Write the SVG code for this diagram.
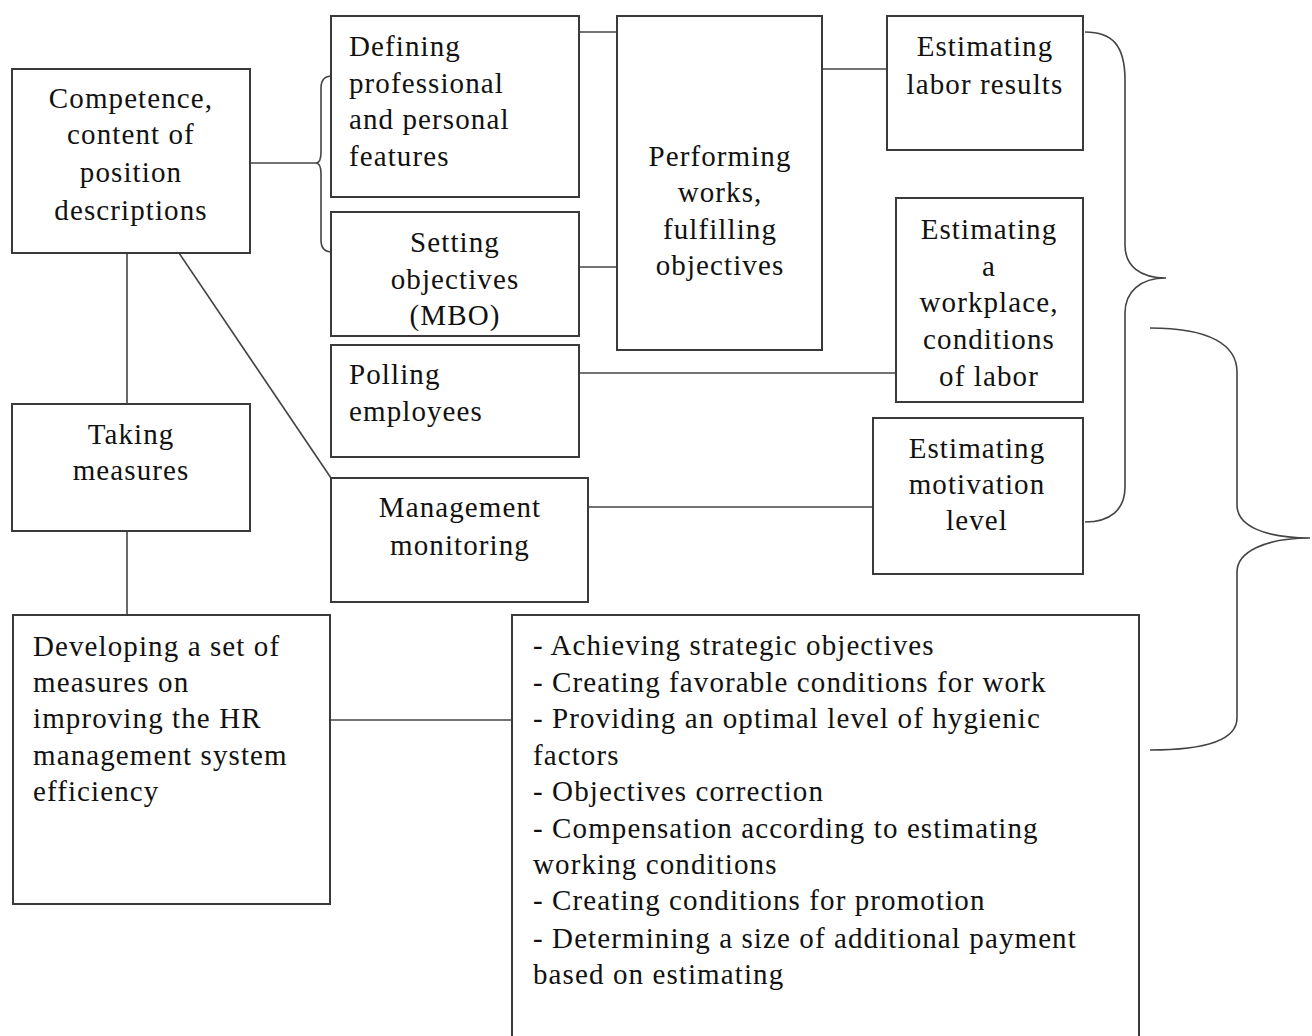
<svg xmlns="http://www.w3.org/2000/svg" width="1312" height="1036" viewBox="0 0 1312 1036">
<style>
.box{fill:#fff;stroke:#3a3a3a;stroke-width:2}
.ln{fill:none;stroke:#444;stroke-width:1.6}
text{font-family:"Liberation Serif","Times New Roman",serif;font-size:29px;letter-spacing:1.1px;fill:#111}
.c{text-anchor:middle}
</style>
<rect width="1312" height="1036" fill="#fff"/>
<g id="connectors">
<line class="ln" x1="250" y1="163" x2="316" y2="163"/>
<path class="ln" d="M332,76 C325,76 321,80 321,88 L321,152 C321,159 319,163 316,163 C319,163 321,167 321,174 L321,240 C321,248 325,252 332,252"/>
<line class="ln" x1="579" y1="32" x2="617" y2="32"/>
<line class="ln" x1="579" y1="267" x2="617" y2="267"/>
<line class="ln" x1="822" y1="69" x2="887" y2="69"/>
<line class="ln" x1="579" y1="373" x2="896" y2="373"/>
<line class="ln" x1="588" y1="507" x2="873" y2="507"/>
<line class="ln" x1="127" y1="253" x2="127" y2="404"/>
<line class="ln" x1="127" y1="531" x2="127" y2="614"/>
<line class="ln" x1="179" y1="253" x2="331" y2="478"/>
<line class="ln" x1="330" y1="720" x2="512" y2="720"/>
<path class="ln" d="M1085,32 C1112,32 1125,45 1125,80 L1125,245 C1125,266 1140,278 1166,278 C1140,278 1125,292 1125,313 L1125,487 C1125,510 1110,522 1085,522"/>
<path class="ln" d="M1150,328 C1210,328 1237,345 1237,372 L1237,505 C1237,526 1265,538 1310,538 C1265,538 1237,552 1237,572 L1237,718 C1237,738 1210,750 1150,750"/>
</g>
<g id="n-competence">
<rect class="box" x="12" y="69" width="238" height="184"/>
<text class="c" x="131" y="108">Competence,</text>
<text class="c" x="131" y="144">content of</text>
<text class="c" x="131" y="182">position</text>
<text class="c" x="131" y="220">descriptions</text>
</g>
<g id="n-defining">
<rect class="box" x="331" y="16" width="248" height="181"/>
<text x="349" y="56">Defining</text>
<text x="349" y="93">professional</text>
<text x="349" y="129">and personal</text>
<text x="349" y="166">features</text>
</g>
<g id="n-setting">
<rect class="box" x="331" y="212" width="248" height="124"/>
<text class="c" x="455" y="252">Setting</text>
<text class="c" x="455" y="289">objectives</text>
<text class="c" x="455" y="325">(MBO)</text>
</g>
<g id="n-performing">
<rect class="box" x="617" y="16" width="205" height="334"/>
<text class="c" x="720" y="166">Performing</text>
<text class="c" x="720" y="202">works,</text>
<text class="c" x="720" y="239">fulfilling</text>
<text class="c" x="720" y="275">objectives</text>
</g>
<g id="n-labor-results">
<rect class="box" x="887" y="16" width="196" height="134"/>
<text class="c" x="985" y="56">Estimating</text>
<text class="c" x="985" y="94">labor results</text>
</g>
<g id="n-workplace">
<rect class="box" x="896" y="198" width="187" height="204"/>
<text class="c" x="989" y="239">Estimating</text>
<text class="c" x="989" y="276">a</text>
<text class="c" x="989" y="312">workplace,</text>
<text class="c" x="989" y="349">conditions</text>
<text class="c" x="989" y="386">of labor</text>
</g>
<g id="n-polling">
<rect class="box" x="331" y="345" width="248" height="112"/>
<text x="349" y="384">Polling</text>
<text x="349" y="421">employees</text>
</g>
<g id="n-motivation">
<rect class="box" x="873" y="418" width="210" height="156"/>
<text class="c" x="977" y="458">Estimating</text>
<text class="c" x="977" y="494">motivation</text>
<text class="c" x="977" y="530">level</text>
</g>
<g id="n-monitoring">
<rect class="box" x="331" y="478" width="257" height="124"/>
<text class="c" x="460" y="517">Management</text>
<text class="c" x="460" y="555">monitoring</text>
</g>
<g id="n-taking">
<rect class="box" x="12" y="404" width="238" height="127"/>
<text class="c" x="131" y="444">Taking</text>
<text class="c" x="131" y="480">measures</text>
</g>
<g id="n-developing">
<rect class="box" x="13" y="615" width="317" height="289"/>
<text x="33" y="656">Developing a set of</text>
<text x="33" y="692">measures on</text>
<text x="33" y="728">improving the HR</text>
<text x="33" y="765">management system</text>
<text x="33" y="801">efficiency</text>
</g>
<g id="n-list">
<rect class="box" x="512" y="615" width="627" height="430"/>
<text x="533" y="655">- Achieving strategic objectives</text>
<text x="533" y="692">- Creating favorable conditions for work</text>
<text x="533" y="728">- Providing an optimal level of hygienic</text>
<text x="533" y="765">factors</text>
<text x="533" y="801">- Objectives correction</text>
<text x="533" y="838">- Compensation according to estimating</text>
<text x="533" y="874">working conditions</text>
<text x="533" y="910">- Creating conditions for promotion</text>
<text x="533" y="948">- Determining a size of additional payment</text>
<text x="533" y="984">based on estimating</text>
</g>
</svg>
